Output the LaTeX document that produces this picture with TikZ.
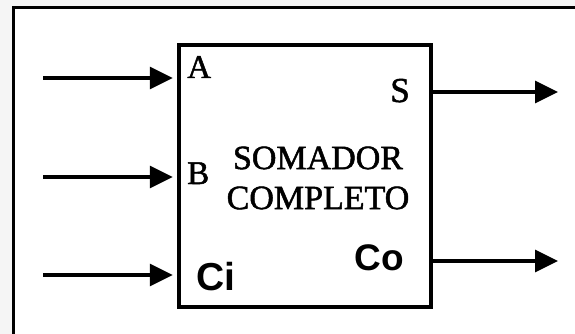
\documentclass[tikz,border=0pt]{standalone}
\usepackage{xcolor}
\usepackage{fontspec}
\setmainfont{Liberation Serif}
\setsansfont{Liberation Sans}
\newfontfamily\escaneada[FakeBold=1.5]{Liberation Serif}
\usepackage{tikz}
\usetikzlibrary{positioning,shapes,arrows.meta,calc}

\tikzset{
    bloco/.style={draw, line width=4.5pt, minimum width=252pt, minimum height=262pt, inner sep=0pt},
    sinal/.style={line width=3.5pt, -{Triangle[length=23pt,width=22pt]}},
    pinoser/.style={inner sep=0pt, font=\escaneada\fontsize{33}{38}\selectfont},
    pinosan/.style={inner sep=0pt, font=\sffamily\bfseries\fontsize{39}{44}\selectfont}
}

\begin{document}
\begin{tikzpicture}[x=1pt, y=-1pt]
    \useasboundingbox (0,0) rectangle (575,334);
    % moldura da figura
    \fill[black!4] (0,0) rectangle (575,334);
    \fill[white] (13.5,7.5) rectangle (575,334);
    \draw[line width=3pt] (13.5,334) -- (13.5,7.5) -- (575,7.5);

    \node[bloco] (somador) at (305,176) {};
    \node[align=center, inner sep=0pt, font=\escaneada\fontsize{34}{40}\selectfont] (nome) at (318,178) {SOMADOR\\COMPLETO};

    % entradas e saidas
    \node[pinoser, anchor=base west] (A) at (187,78) {A};
    \node[pinoser, anchor=base west] (B) at (187,184) {B};
    \node[pinosan, anchor=base west] (Ci) at (196,290) {Ci};
    \node[pinoser, font=\escaneada\fontsize{35}{40}\selectfont, anchor=base east] (S) at (410,102) {S};
    \node[pinosan, font=\sffamily\bfseries\fontsize{37}{42}\selectfont, anchor=base east] (Co) at (404,270) {Co};

    \coordinate (inA) at (43,78);
    \coordinate (inB) at (43,177);
    \coordinate (inCi) at (43,275);
    \coordinate (outS) at (558,92);
    \coordinate (outCo) at (558,261);

    \draw[sinal, shorten >=4pt] (inA) -- (somador.west |- inA);
    \draw[sinal, shorten >=4pt] (inB) -- (somador.west |- inB);
    \draw[sinal, shorten >=4pt] (inCi) -- (somador.west |- inCi);
    \draw[sinal] (somador.east |- outS) -- (outS);
    \draw[sinal] (somador.east |- outCo) -- (outCo);
\end{tikzpicture}
\end{document}
